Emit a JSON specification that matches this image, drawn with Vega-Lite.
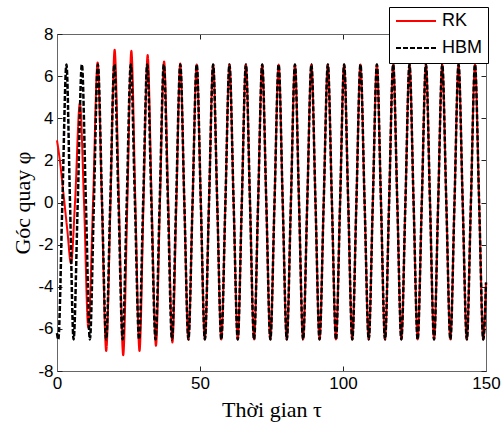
{
  "$schema": "https://vega.github.io/schema/vega-lite/v6.json",
  "width": 429,
  "height": 337,
  "autosize": {"type": "none"},
  "padding": {"left": 57, "top": 34, "right": 15, "bottom": 57},
  "background": "white",
  "config": {
    "view": {"stroke": "#666666", "strokeWidth": 1},
    "axis": {
      "labelFont": "Liberation Sans",
      "labelFontSize": 17,
      "labelColor": "#000000",
      "labelFlush": false,
      "tickColor": "#222222",
      "domainColor": "#666666",
      "tickSize": -5,
      "labelPadding": 9,
      "grid": false,
      "titleFont": "Liberation Serif",
      "titleFontSize": 22,
      "titleFontWeight": "normal",
      "titleColor": "#000000"
    },
    "legend": {
      "orient": "none",
      "legendX": 332,
      "legendY": -27,
      "symbolType": "stroke",
      "symbolSize": 1600,
      "symbolStrokeWidth": 2,
      "labelFont": "Liberation Sans",
      "labelFontSize": 18,
      "labelColor": "#000000",
      "strokeColor": "#000000",
      "fillColor": "#ffffff",
      "padding": 6,
      "clipHeight": 16,
      "rowPadding": 9,
      "labelOffset": 5
    }
  },
  "data": {
    "values": [
      {"t": 0, "v": 2.95, "s": "RK"},
      {"t": 1.0, "v": 2.0, "s": "RK"},
      {"t": 2.2, "v": 0.5, "s": "RK"},
      {"t": 3.6, "v": -1.3, "s": "RK"},
      {"t": 4.9, "v": -2.9, "s": "RK"},
      {"t": 6.3, "v": 0, "s": "RK"},
      {"t": 8.0, "v": 4.7, "s": "RK"},
      {"t": 9.45, "v": 0, "s": "RK"},
      {"t": 10.95, "v": -5.95, "s": "RK"},
      {"t": 12.6, "v": 0, "s": "RK"},
      {"t": 14.2, "v": 6.65, "s": "RK"},
      {"t": 15.7, "v": 0, "s": "RK"},
      {"t": 17.2, "v": -7.05, "s": "RK"},
      {"t": 18.7, "v": 0, "s": "RK"},
      {"t": 20.15, "v": 7.25, "s": "RK"},
      {"t": 21.65, "v": 0, "s": "RK"},
      {"t": 23.15, "v": -7.25, "s": "RK"},
      {"t": 24.6, "v": 0, "s": "RK"},
      {"t": 26.0, "v": 7.2, "s": "RK"},
      {"t": 27.4, "v": 0, "s": "RK"},
      {"t": 28.85, "v": -7.05, "s": "RK"},
      {"t": 30.25, "v": 0, "s": "RK"},
      {"t": 31.7, "v": 7.0, "s": "RK"},
      {"t": 33.1, "v": 0, "s": "RK"},
      {"t": 34.6, "v": -6.8, "s": "RK"},
      {"t": 36.0, "v": 0, "s": "RK"},
      {"t": 37.45, "v": 6.7, "s": "RK"},
      {"t": 38.9, "v": 0, "s": "RK"},
      {"t": 40.35, "v": -6.65, "s": "RK"},
      {"t": 41.75, "v": 0, "s": "RK"},
      {"t": 43.1, "v": 6.6, "s": "RK"},
      {"t": 44.52, "v": 0, "s": "RK"},
      {"t": 45.95, "v": -6.5, "s": "RK"},
      {"t": 47.4, "v": 0, "s": "RK"},
      {"t": 48.85, "v": 6.55, "s": "RK"},
      {"t": 50.28, "v": 0, "s": "RK"},
      {"t": 51.7, "v": -6.5, "s": "RK"},
      {"t": 53.15, "v": 0, "s": "RK"},
      {"t": 54.6, "v": 6.55, "s": "RK"},
      {"t": 56.02, "v": 0, "s": "RK"},
      {"t": 57.45, "v": -6.5, "s": "RK"},
      {"t": 58.88, "v": 0, "s": "RK"},
      {"t": 60.3, "v": 6.55, "s": "RK"},
      {"t": 61.75, "v": 0, "s": "RK"},
      {"t": 63.2, "v": -6.5, "s": "RK"},
      {"t": 64.62, "v": 0, "s": "RK"},
      {"t": 66.05, "v": 6.55, "s": "RK"},
      {"t": 67.48, "v": 0, "s": "RK"},
      {"t": 68.9, "v": -6.5, "s": "RK"},
      {"t": 70.32, "v": 0, "s": "RK"},
      {"t": 71.75, "v": 6.55, "s": "RK"},
      {"t": 73.18, "v": 0, "s": "RK"},
      {"t": 74.6, "v": -6.5, "s": "RK"},
      {"t": 76.05, "v": 0, "s": "RK"},
      {"t": 77.5, "v": 6.55, "s": "RK"},
      {"t": 78.92, "v": 0, "s": "RK"},
      {"t": 80.35, "v": -6.5, "s": "RK"},
      {"t": 81.78, "v": 0, "s": "RK"},
      {"t": 83.2, "v": 6.55, "s": "RK"},
      {"t": 84.62, "v": 0, "s": "RK"},
      {"t": 86.05, "v": -6.5, "s": "RK"},
      {"t": 87.5, "v": 0, "s": "RK"},
      {"t": 88.95, "v": 6.55, "s": "RK"},
      {"t": 90.38, "v": 0, "s": "RK"},
      {"t": 91.8, "v": -6.5, "s": "RK"},
      {"t": 93.25, "v": 0, "s": "RK"},
      {"t": 94.7, "v": 6.55, "s": "RK"},
      {"t": 96.12, "v": 0, "s": "RK"},
      {"t": 97.55, "v": -6.5, "s": "RK"},
      {"t": 98.98, "v": 0, "s": "RK"},
      {"t": 100.4, "v": 6.55, "s": "RK"},
      {"t": 101.82, "v": 0, "s": "RK"},
      {"t": 103.25, "v": -6.5, "s": "RK"},
      {"t": 104.68, "v": 0, "s": "RK"},
      {"t": 106.1, "v": 6.55, "s": "RK"},
      {"t": 107.55, "v": 0, "s": "RK"},
      {"t": 109.0, "v": -6.5, "s": "RK"},
      {"t": 110.42, "v": 0, "s": "RK"},
      {"t": 111.85, "v": 6.55, "s": "RK"},
      {"t": 113.28, "v": 0, "s": "RK"},
      {"t": 114.7, "v": -6.5, "s": "RK"},
      {"t": 116.12, "v": 0, "s": "RK"},
      {"t": 117.55, "v": 6.55, "s": "RK"},
      {"t": 118.98, "v": 0, "s": "RK"},
      {"t": 120.4, "v": -6.5, "s": "RK"},
      {"t": 121.82, "v": 0, "s": "RK"},
      {"t": 123.25, "v": 6.55, "s": "RK"},
      {"t": 124.68, "v": 0, "s": "RK"},
      {"t": 126.1, "v": -6.5, "s": "RK"},
      {"t": 127.55, "v": 0, "s": "RK"},
      {"t": 129.0, "v": 6.55, "s": "RK"},
      {"t": 130.42, "v": 0, "s": "RK"},
      {"t": 131.85, "v": -6.5, "s": "RK"},
      {"t": 133.28, "v": 0, "s": "RK"},
      {"t": 134.7, "v": 6.55, "s": "RK"},
      {"t": 136.12, "v": 0, "s": "RK"},
      {"t": 137.55, "v": -6.5, "s": "RK"},
      {"t": 138.98, "v": 0, "s": "RK"},
      {"t": 140.4, "v": 6.55, "s": "RK"},
      {"t": 141.85, "v": 0, "s": "RK"},
      {"t": 143.3, "v": -6.5, "s": "RK"},
      {"t": 144.72, "v": 0, "s": "RK"},
      {"t": 146.15, "v": 6.55, "s": "RK"},
      {"t": 147.6, "v": 0, "s": "RK"},
      {"t": 149.05, "v": -6.5, "s": "RK"},
      {"t": 150, "v": -3.8, "s": "RK"},

      {"t": 0, "v": -6.2, "s": "HBM"},
      {"t": 0.45, "v": -6.5, "s": "HBM"},
      {"t": 1.88, "v": 0, "s": "HBM"},
      {"t": 3.3, "v": 6.55, "s": "HBM"},
      {"t": 4.55, "v": 0, "s": "HBM"},
      {"t": 5.8, "v": -6.5, "s": "HBM"},
      {"t": 7.25, "v": 0, "s": "HBM"},
      {"t": 8.7, "v": 6.55, "s": "HBM"},
      {"t": 10.1, "v": 0, "s": "HBM"},
      {"t": 11.5, "v": -6.5, "s": "HBM"},
      {"t": 12.9, "v": 0, "s": "HBM"},
      {"t": 14.3, "v": 6.55, "s": "HBM"},
      {"t": 15.75, "v": 0, "s": "HBM"},
      {"t": 17.2, "v": -6.5, "s": "HBM"},
      {"t": 18.62, "v": 0, "s": "HBM"},
      {"t": 20.05, "v": 6.55, "s": "HBM"},
      {"t": 21.5, "v": 0, "s": "HBM"},
      {"t": 22.95, "v": -6.5, "s": "HBM"},
      {"t": 24.38, "v": 0, "s": "HBM"},
      {"t": 25.8, "v": 6.55, "s": "HBM"},
      {"t": 27.25, "v": 0, "s": "HBM"},
      {"t": 28.7, "v": -6.5, "s": "HBM"},
      {"t": 30.12, "v": 0, "s": "HBM"},
      {"t": 31.55, "v": 6.55, "s": "HBM"},
      {"t": 33.0, "v": 0, "s": "HBM"},
      {"t": 34.45, "v": -6.5, "s": "HBM"},
      {"t": 35.9, "v": 0, "s": "HBM"},
      {"t": 37.35, "v": 6.55, "s": "HBM"},
      {"t": 38.78, "v": 0, "s": "HBM"},
      {"t": 40.2, "v": -6.5, "s": "HBM"},
      {"t": 41.65, "v": 0, "s": "HBM"},
      {"t": 43.1, "v": 6.55, "s": "HBM"},
      {"t": 44.52, "v": 0, "s": "HBM"},
      {"t": 45.95, "v": -6.5, "s": "HBM"},
      {"t": 47.4, "v": 0, "s": "HBM"},
      {"t": 48.85, "v": 6.55, "s": "HBM"},
      {"t": 50.28, "v": 0, "s": "HBM"},
      {"t": 51.7, "v": -6.5, "s": "HBM"},
      {"t": 53.15, "v": 0, "s": "HBM"},
      {"t": 54.6, "v": 6.55, "s": "HBM"},
      {"t": 56.02, "v": 0, "s": "HBM"},
      {"t": 57.45, "v": -6.5, "s": "HBM"},
      {"t": 58.88, "v": 0, "s": "HBM"},
      {"t": 60.3, "v": 6.55, "s": "HBM"},
      {"t": 61.75, "v": 0, "s": "HBM"},
      {"t": 63.2, "v": -6.5, "s": "HBM"},
      {"t": 64.62, "v": 0, "s": "HBM"},
      {"t": 66.05, "v": 6.55, "s": "HBM"},
      {"t": 67.48, "v": 0, "s": "HBM"},
      {"t": 68.9, "v": -6.5, "s": "HBM"},
      {"t": 70.32, "v": 0, "s": "HBM"},
      {"t": 71.75, "v": 6.55, "s": "HBM"},
      {"t": 73.18, "v": 0, "s": "HBM"},
      {"t": 74.6, "v": -6.5, "s": "HBM"},
      {"t": 76.05, "v": 0, "s": "HBM"},
      {"t": 77.5, "v": 6.55, "s": "HBM"},
      {"t": 78.92, "v": 0, "s": "HBM"},
      {"t": 80.35, "v": -6.5, "s": "HBM"},
      {"t": 81.78, "v": 0, "s": "HBM"},
      {"t": 83.2, "v": 6.55, "s": "HBM"},
      {"t": 84.62, "v": 0, "s": "HBM"},
      {"t": 86.05, "v": -6.5, "s": "HBM"},
      {"t": 87.5, "v": 0, "s": "HBM"},
      {"t": 88.95, "v": 6.55, "s": "HBM"},
      {"t": 90.38, "v": 0, "s": "HBM"},
      {"t": 91.8, "v": -6.5, "s": "HBM"},
      {"t": 93.25, "v": 0, "s": "HBM"},
      {"t": 94.7, "v": 6.55, "s": "HBM"},
      {"t": 96.12, "v": 0, "s": "HBM"},
      {"t": 97.55, "v": -6.5, "s": "HBM"},
      {"t": 98.98, "v": 0, "s": "HBM"},
      {"t": 100.4, "v": 6.55, "s": "HBM"},
      {"t": 101.82, "v": 0, "s": "HBM"},
      {"t": 103.25, "v": -6.5, "s": "HBM"},
      {"t": 104.68, "v": 0, "s": "HBM"},
      {"t": 106.1, "v": 6.55, "s": "HBM"},
      {"t": 107.55, "v": 0, "s": "HBM"},
      {"t": 109.0, "v": -6.5, "s": "HBM"},
      {"t": 110.42, "v": 0, "s": "HBM"},
      {"t": 111.85, "v": 6.55, "s": "HBM"},
      {"t": 113.28, "v": 0, "s": "HBM"},
      {"t": 114.7, "v": -6.5, "s": "HBM"},
      {"t": 116.12, "v": 0, "s": "HBM"},
      {"t": 117.55, "v": 6.55, "s": "HBM"},
      {"t": 118.98, "v": 0, "s": "HBM"},
      {"t": 120.4, "v": -6.5, "s": "HBM"},
      {"t": 121.82, "v": 0, "s": "HBM"},
      {"t": 123.25, "v": 6.55, "s": "HBM"},
      {"t": 124.68, "v": 0, "s": "HBM"},
      {"t": 126.1, "v": -6.5, "s": "HBM"},
      {"t": 127.55, "v": 0, "s": "HBM"},
      {"t": 129.0, "v": 6.55, "s": "HBM"},
      {"t": 130.42, "v": 0, "s": "HBM"},
      {"t": 131.85, "v": -6.5, "s": "HBM"},
      {"t": 133.28, "v": 0, "s": "HBM"},
      {"t": 134.7, "v": 6.55, "s": "HBM"},
      {"t": 136.12, "v": 0, "s": "HBM"},
      {"t": 137.55, "v": -6.5, "s": "HBM"},
      {"t": 138.98, "v": 0, "s": "HBM"},
      {"t": 140.4, "v": 6.55, "s": "HBM"},
      {"t": 141.85, "v": 0, "s": "HBM"},
      {"t": 143.3, "v": -6.5, "s": "HBM"},
      {"t": 144.72, "v": 0, "s": "HBM"},
      {"t": 146.15, "v": 6.55, "s": "HBM"},
      {"t": 147.6, "v": 0, "s": "HBM"},
      {"t": 149.05, "v": -6.5, "s": "HBM"},
      {"t": 150, "v": -3.8, "s": "HBM"}
    ]
  },
  "layer": [
    {
      "transform": [{"filter": "datum.s == 'RK'"}],
      "mark": {"type": "line", "strokeWidth": 2, "interpolate": "monotone"},
      "encoding": {
        "x": {
          "field": "t", "type": "quantitative",
          "scale": {"domain": [0, 150], "nice": false, "zero": false},
          "axis": {"orient": "bottom", "values": [0, 50, 100, 150], "title": "Thời gian  τ", "titlePadding": 8}
        },
        "y": {
          "field": "v", "type": "quantitative",
          "scale": {"domain": [-8, 8], "nice": false, "zero": false},
          "axis": {"orient": "left", "values": [-8, -6, -4, -2, 0, 2, 4, 6, 8], "title": "Góc quay φ", "titlePadding": 3, "labelExpr": "'' + datum.value"}
        },
        "color": {"field": "s", "type": "nominal", "scale": {"domain": ["RK", "HBM"], "range": ["#ff0000", "#000000"]}, "legend": {"title": null}},
        "strokeDash": {"field": "s", "type": "nominal", "scale": {"domain": ["RK", "HBM"], "range": [[1, 0], [5, 2]]}, "legend": {"title": null}}
      }
    },
    {
      "transform": [{"filter": "datum.s == 'HBM'"}],
      "mark": {"type": "line", "strokeWidth": 2.5, "interpolate": "monotone"},
      "encoding": {
        "x": {
          "field": "t", "type": "quantitative",
          "axis": {"orient": "top", "values": [0, 50, 100, 150], "labels": false, "title": null}
        },
        "y": {
          "field": "v", "type": "quantitative",
          "axis": {"orient": "right", "values": [-8, -6, -4, -2, 0, 2, 4, 6, 8], "labels": false, "title": null}
        },
        "color": {"field": "s", "type": "nominal", "legend": {"title": null}},
        "strokeDash": {"field": "s", "type": "nominal", "legend": {"title": null}}
      }
    }
  ],
  "resolve": {"axis": {"x": "independent", "y": "independent"}}
}
